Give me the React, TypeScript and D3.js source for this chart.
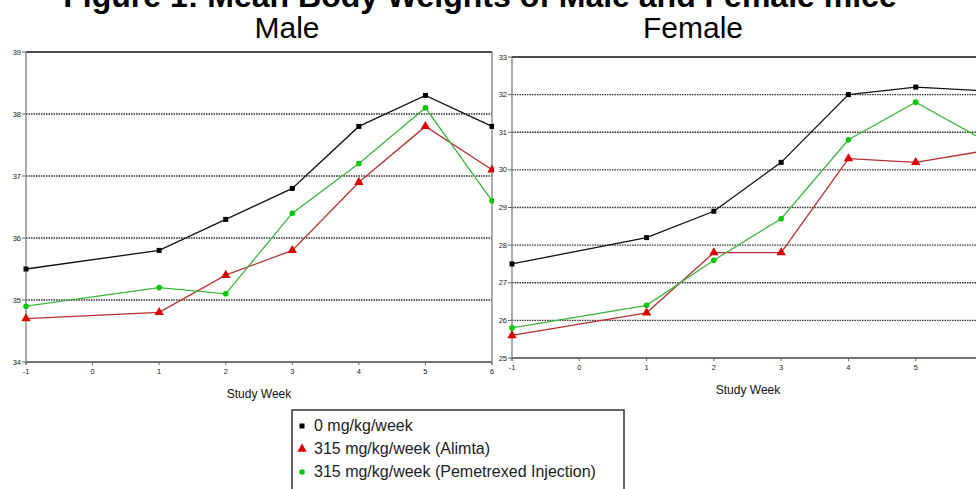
import React from "react";
import * as d3 from "d3";

// study weeks (week 0 has no measurement)
const weeks = [-1, 1, 2, 3, 4, 5, 6];
const xTicks = [-1, 0, 1, 2, 3, 4, 5, 6];

const maleControl = [35.5, 35.8, 36.3, 36.8, 37.8, 38.3, 37.8];
const maleAlimta = [34.7, 34.8, 35.4, 35.8, 36.9, 37.8, 37.1];
const malePemetrexed = [34.9, 35.2, 35.1, 36.4, 37.2, 38.1, 36.6];

const femaleControl = [27.5, 28.2, 28.9, 30.2, 32.0, 32.2, 32.1];
const femaleAlimta = [25.6, 26.2, 27.8, 27.8, 30.3, 30.2, 30.5];
const femalePemetrexed = [25.8, 26.4, 27.6, 28.7, 30.8, 31.8, 30.8];

const maleYTicks = [34, 35, 36, 37, 38, 39];
const femaleYTicks = [25, 26, 27, 28, 29, 30, 31, 32, 33];

const legendLabels = [
  "0 mg/kg/week",
  "315 mg/kg/week (Alimta)",
  "315 mg/kg/week (Pemetrexed Injection)",
];

const lineColors = ["#111111", "#b83232", "#3cb83c"];
const markColors = ["#000000", "#e00000", "#00c800"];
const font = "Liberation Sans, Arial, sans-serif";

function Marker({ kind, x, y }: { kind: number; x: number; y: number }) {
  if (kind === 0) return <rect x={x - 2.5} y={y - 2.5} width={5} height={5} fill={markColors[0]} />;
  if (kind === 1) {
    const s = d3.symbol().type(d3.symbolTriangle).size(38)();
    return <path d={s || ""} transform={`translate(${x},${y})`} fill={markColors[1]} />;
  }
  return <circle cx={x} cy={y} r={2.8} fill={markColors[2]} />;
}

function Panel({ x0, x1, y0, y1, domain, yTicks, series, rightAxis, labelX, labelY }: any) {
  const x = d3.scaleLinear().domain([-1, 6]).range([x0, x1]);
  const y = d3.scaleLinear().domain(domain).range([y1, y0]);
  const line = d3
    .line<number>()
    .x((_, i) => x(weeks[i]))
    .y((d) => y(d));
  const top = yTicks[yTicks.length - 1];
  const bottom = yTicks[0];
  return (
    <g>
      {yTicks
        .filter((t: number) => t !== top && t !== bottom)
        .map((t: number) => (
          <line key={t} x1={x0} x2={x1} y1={y(t)} y2={y(t)} stroke="#333" strokeWidth={1.4} strokeDasharray="1.5,1" />
        ))}
      <line x1={x0} x2={x1} y1={y(top)} y2={y(top)} stroke="#111" strokeWidth={1.4} />
      <line x1={x0} x2={x1} y1={y(bottom)} y2={y(bottom)} stroke="#444" strokeWidth={1.4} />
      <line x1={x0} x2={x0} y1={y(top)} y2={y(bottom) + 3} stroke="#888" strokeWidth={1.4} />
      {rightAxis && <line x1={x1} x2={x1} y1={y(top)} y2={y(bottom) + 3} stroke="#888" strokeWidth={1.4} />}
      {yTicks.map((t: number) => (
        <g key={t}>
          <line x1={x0 - 4} x2={x0} y1={y(t)} y2={y(t)} stroke="#666" strokeWidth={1} />
          <text x={x0 - 5} y={y(t) + 2.5} fontSize={7.5} textAnchor="end" fill="#222" fontFamily={font}>
            {t}
          </text>
        </g>
      ))}
      {xTicks
        .filter((t) => x(t) < 975)
        .map((t) => (
          <g key={t}>
            <line x1={x(t)} x2={x(t)} y1={y(bottom)} y2={y(bottom) + 3} stroke="#666" strokeWidth={1} />
            <text x={x(t)} y={y(bottom) + 12} fontSize={7.5} textAnchor="middle" fill="#222" fontFamily={font}>
              {t}
            </text>
          </g>
        ))}
      {series.map((s: number[], k: number) => (
        <g key={k}>
          <path d={line(s) || ""} fill="none" stroke={lineColors[k]} strokeWidth={1.3} />
          {s.map((v, i) => (
            <Marker key={i} kind={k} x={x(weeks[i])} y={y(v)} />
          ))}
        </g>
      ))}
      <text x={labelX} y={labelY} fontSize={12} textAnchor="middle" fill="#111" fontFamily="Liberation Sans Narrow, Liberation Sans, Arial, sans-serif">
        Study Week
      </text>
    </g>
  );
}

export default function App() {
  return (
    <div style={{ position: "absolute", left: 0, top: 0 }}>
      <svg width={976} height={489} style={{ display: "block", background: "#fff" }}>
        <text x={480} y={7} fontSize={32} fontWeight="bold" textAnchor="middle" fill="#000" fontFamily={font}>
          Figure 1: Mean Body Weights of Male and Female mice
        </text>
        <text x={287} y={38} fontSize={30} textAnchor="middle" fill="#000" fontFamily={font}>
          Male
        </text>
        <text x={693} y={38} fontSize={30} textAnchor="middle" fill="#000" fontFamily={font}>
          Female
        </text>
        <Panel
          x0={26}
          x1={492}
          y0={52}
          y1={362}
          domain={[34, 39]}
          yTicks={maleYTicks}
          series={[maleControl, maleAlimta, malePemetrexed]}
          rightAxis
          labelX={259}
          labelY={398}
        />
        <rect x={494} y={45} width={482} height={345} fill="#fff" />
        <Panel
          x0={512}
          x1={983}
          y0={57}
          y1={358}
          domain={[25, 33]}
          yTicks={femaleYTicks}
          series={[femaleControl, femaleAlimta, femalePemetrexed]}
          rightAxis={false}
          labelX={748}
          labelY={394}
        />
        <g>
          <rect x={292} y={410} width={332} height={100} fill="#fff" stroke="#333" strokeWidth={1.5} />
          {legendLabels.map((l, i) => (
            <g key={l}>
              <Marker kind={i} x={302} y={426 + i * 23} />
              <text x={314} y={431 + i * 23} fontSize={16} fill="#222" fontFamily={font}>
                {l}
              </text>
            </g>
          ))}
        </g>
      </svg>
    </div>
  );
}
